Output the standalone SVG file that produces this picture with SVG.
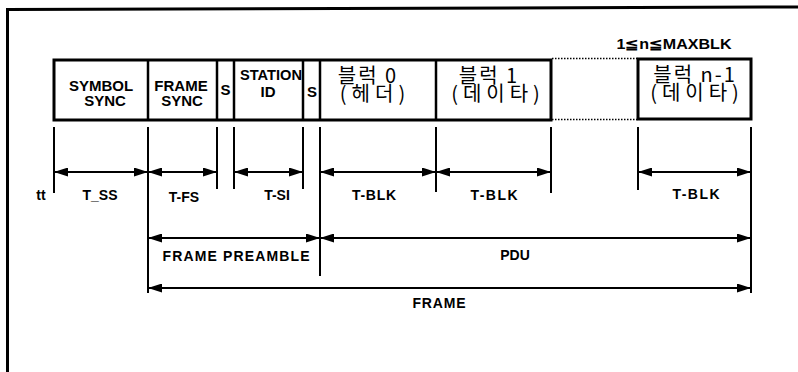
<svg xmlns="http://www.w3.org/2000/svg" width="798" height="372" viewBox="0 0 798 372">
<style>
.frame{fill:none;stroke:#000;stroke-width:3}
.box{fill:#fff;stroke:#000;stroke-width:3}
.div{stroke:#000;stroke-width:2.5}
.dot{stroke:#000;stroke-width:1.5;stroke-dasharray:1.5 1.5}
.tick{stroke:#000;stroke-width:2}
.arr{stroke:#000;stroke-width:2;fill:none;marker-start:url(#ah);marker-end:url(#ah)}
.lb{font-family:"Liberation Sans",Arial,sans-serif;font-weight:bold;font-size:15px;text-anchor:middle;fill:#000}
.sm{font-family:"Liberation Sans",Arial,sans-serif;font-weight:bold;font-size:14px;text-anchor:middle;fill:#000}
.kr{font-family:"Noto Sans CJK KR","Noto Sans CJK SC",sans-serif;font-size:20px;text-anchor:middle;fill:#000}
.k1{letter-spacing:2px}
.k2{letter-spacing:5px}
</style>
<defs>
<marker id="ah" viewBox="0 0 14 9" refX="14" refY="4.5" markerWidth="14" markerHeight="9" markerUnits="userSpaceOnUse" orient="auto-start-reverse">
<path d="M0,0 L14,4.5 L0,9 z" fill="#000"/>
</marker>
</defs>
<rect width="798" height="372" fill="#fff"/>
<path class="frame" d="M7.5,372 V9.5 L798,7"/>

<g id="row">
<rect class="box" x="54" y="60" width="497" height="60"/>
<line class="div" x1="148" y1="60" x2="148" y2="120"/>
<line class="div" x1="217" y1="60" x2="217" y2="120"/>
<line class="div" x1="234" y1="60" x2="234" y2="120"/>
<line class="div" x1="303" y1="60" x2="303" y2="120"/>
<line class="div" x1="320" y1="60" x2="320" y2="120"/>
<line class="div" x1="436" y1="60" x2="436" y2="120"/>
<line class="dot" x1="552" y1="58.5" x2="638" y2="58.5"/>
<line class="dot" x1="552" y1="119.5" x2="638" y2="119.5"/>
</g>
<g id="symbol-sync"><text class="lb" x="101" y="91">SYMBOL</text><text class="lb" x="105" y="106">SYNC</text></g>
<g id="frame-sync"><text class="lb" x="181" y="91">FRAME</text><text class="lb" x="182" y="106">SYNC</text></g>
<g id="s1"><text class="lb" x="225.5" y="95" font-size="13">S</text></g>
<g id="station-id"><text class="lb" x="271" y="80" textLength="62" lengthAdjust="spacingAndGlyphs">STATION</text><text class="lb" x="268" y="97">ID</text></g>
<g id="s2"><text class="lb" x="312" y="97" font-size="13">S</text></g>
<g id="blk0"><text class="kr k1" x="368" y="83">블럭 0</text><text class="kr k2" x="375" y="101">(헤더)</text></g>
<g id="blk1"><text class="kr k1" x="489" y="83">블럭 1</text><text class="kr k2" x="498" y="101">(데이타)</text></g>
<g id="blkn">
<rect class="box" x="638" y="59" width="113" height="60"/>
<text class="kr k1" x="695" y="82">블럭 n-1</text><text class="kr k2" x="697" y="100">(데이타)</text>
</g>
<g id="maxblk"><text class="sm" x="674" y="49" font-size="12" textLength="115" lengthAdjust="spacingAndGlyphs">1≦n≦MAXBLK</text></g>

<g id="connectors">
<line class="tick" x1="54" y1="127" x2="54" y2="193"/>
<line class="tick" x1="148" y1="127" x2="148" y2="293"/>
<line class="tick" x1="217" y1="127" x2="217" y2="189"/>
<line class="tick" x1="234" y1="127" x2="234" y2="189"/>
<line class="tick" x1="303" y1="127" x2="303" y2="189"/>
<line class="tick" x1="320" y1="127" x2="320" y2="276"/>
<line class="tick" x1="436" y1="127" x2="436" y2="192"/>
<line class="tick" x1="551" y1="127" x2="551" y2="193"/>
<line class="tick" x1="638" y1="127" x2="638" y2="190"/>
<line class="tick" x1="751" y1="127" x2="751" y2="293"/>
<line class="arr" x1="54" y1="172" x2="148" y2="172"/>
<line class="arr" x1="148" y1="172" x2="217" y2="172"/>
<line class="arr" x1="234" y1="172" x2="303" y2="172"/>
<line class="arr" x1="320" y1="172" x2="436" y2="172"/>
<line class="arr" x1="436" y1="172" x2="551" y2="172"/>
<line class="arr" x1="638" y1="172" x2="751" y2="172"/>
<line class="arr" x1="148" y1="238" x2="320" y2="238"/>
<line class="arr" x1="320" y1="238" x2="751" y2="238"/>
<line class="arr" x1="148" y1="288" x2="751" y2="288"/>
</g>

<g id="labels">
<text class="sm" x="41" y="200" font-size="12">tt</text>
<text class="sm" x="100" y="200">T_SS</text>
<text class="sm" x="184" y="202">T-FS</text>
<text class="sm" x="277" y="200">T-SI</text>
<text class="sm" x="374" y="200" textLength="44">T-BLK</text>
<text class="sm" x="494" y="200" textLength="47">T-BLK</text>
<text class="sm" x="696" y="199" textLength="47">T-BLK</text>
<text class="sm" x="236" y="261" textLength="147">FRAME PREAMBLE</text>
<text class="sm" x="515" y="260">PDU</text>
<text class="sm" x="439" y="308" textLength="53">FRAME</text>
</g>
</svg>
